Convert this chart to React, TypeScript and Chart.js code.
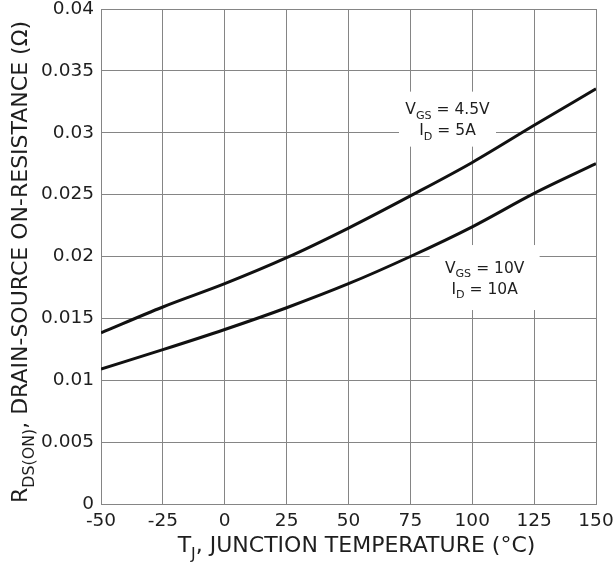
import React, { useEffect, useRef } from 'react';
import { Chart, registerables } from 'chart.js';

Chart.register(...registerables);

// Junction temperature (°C)
const temperatures = [-50, -25, 0, 25, 50, 75, 100, 125, 150];
// R_DS(ON) (Ω) at VGS = 4.5V, ID = 5A
const rdsVgs45 = [0.01383, 0.01592, 0.0178, 0.0199, 0.0223, 0.0249, 0.0276, 0.0306, 0.03355];
// R_DS(ON) (Ω) at VGS = 10V, ID = 10A
const rdsVgs10 = [0.01091, 0.01247, 0.0141, 0.01586, 0.0178, 0.0200, 0.0224, 0.0251, 0.0275];

const xTicks = [-50, -25, 0, 25, 50, 75, 100, 125, 150];
const yTicks = [0, 0.005, 0.01, 0.015, 0.02, 0.025, 0.03, 0.035, 0.04];

type Seg = { t: string; sub?: boolean };

const FONT = "'DejaVu Sans', 'Liberation Sans', sans-serif";
const TEXT_COLOR = '#1e1e1e';
const GRID_COLOR = '#858585';

function drawRich(ctx: CanvasRenderingContext2D, segs: Seg[], cx: number, baseline: number, size: number) {
  const subSize = size * 0.72;
  const widths = segs.map((s) => {
    ctx.font = `${s.sub ? subSize : size}px ${FONT}`;
    return ctx.measureText(s.t).width;
  });
  const total = widths.reduce((a, b) => a + b, 0);
  let x = cx - total / 2;
  ctx.textAlign = 'left';
  ctx.textBaseline = 'alphabetic';
  segs.forEach((s, i) => {
    ctx.font = `${s.sub ? subSize : size}px ${FONT}`;
    ctx.fillText(s.t, x, baseline + (s.sub ? size * 0.3 : 0));
    x += widths[i];
  });
}

const annotations = [
  {
    x: 90,
    y: 0.0311,
    w: 97,
    h: 55,
    lines: [
      [{ t: 'V' }, { t: 'GS', sub: true }, { t: ' = 4.5V' }],
      [{ t: 'I' }, { t: 'D', sub: true }, { t: ' = 5A' }],
    ] as Seg[][],
  },
  {
    x: 105,
    y: 0.0183,
    w: 110,
    h: 65,
    lines: [
      [{ t: 'V' }, { t: 'GS', sub: true }, { t: ' = 10V' }],
      [{ t: 'I' }, { t: 'D', sub: true }, { t: ' = 10A' }],
    ] as Seg[][],
  },
];

const textPlugin = {
  id: 'customText',
  beforeDatasetsDraw(chart: any) {
    const ctx: CanvasRenderingContext2D = chart.ctx;
    const xs = chart.scales.x;
    const ys = chart.scales.y;
    ctx.save();
    annotations.forEach((a) => {
      const cx = xs.getPixelForValue(a.x);
      const cy = ys.getPixelForValue(a.y);
      ctx.fillStyle = '#fff';
      ctx.fillRect(cx - a.w / 2, cy - a.h / 2, a.w, a.h);
      ctx.fillStyle = TEXT_COLOR;
      const lh = 21;
      a.lines.forEach((ln, i) => {
        const base = cy - lh / 2 + i * lh + 5.5;
        drawRich(ctx, ln, cx, base, 15.5);
      });
    });
    ctx.restore();
  },
  afterDraw(chart: any) {
    const ctx: CanvasRenderingContext2D = chart.ctx;
    const area = chart.chartArea;
    ctx.save();
    ctx.fillStyle = TEXT_COLOR;
    // x-axis title
    drawRich(
      ctx,
      [{ t: 'T' }, { t: 'J', sub: true }, { t: ', JUNCTION TEMPERATURE (°C)' }],
      (area.left + area.right) / 2 + 8,
      552,
      22
    );
    // y-axis title
    ctx.translate(27, 262);
    ctx.rotate(-Math.PI / 2);
    drawRich(
      ctx,
      [{ t: 'R' }, { t: 'DS(ON)', sub: true }, { t: ', DRAIN-SOURCE ON-RESISTANCE (Ω)' }],
      0,
      0,
      22
    );
    ctx.restore();
  },
};

export default function App() {
  const canvasRef = useRef<HTMLCanvasElement | null>(null);

  useEffect(() => {
    if (!canvasRef.current) return;
    const chart = new Chart(canvasRef.current, {
      type: 'line',
      data: {
        datasets: [
          {
            label: 'VGS = 4.5V, ID = 5A',
            data: temperatures.map((t, i) => ({ x: t, y: rdsVgs45[i] })),
            borderColor: '#111',
            borderWidth: 3,
            pointRadius: 0,
            fill: false,
            cubicInterpolationMode: 'monotone',
          },
          {
            label: 'VGS = 10V, ID = 10A',
            data: temperatures.map((t, i) => ({ x: t, y: rdsVgs10[i] })),
            borderColor: '#111',
            borderWidth: 3,
            pointRadius: 0,
            fill: false,
            cubicInterpolationMode: 'monotone',
          },
        ],
      },
      options: {
        animation: false,
        responsive: true,
        maintainAspectRatio: false,
        layout: { padding: { top: 9, right: 17, left: 0, bottom: 0 } },
        plugins: {
          legend: { display: false },
          tooltip: { enabled: false },
          title: { display: false },
        },
        scales: {
          x: {
            type: 'linear',
            min: -50,
            max: 150,
            afterBuildTicks: (s: any) => {
              s.ticks = xTicks.map((v) => ({ value: v }));
            },
            afterFit: (s: any) => {
              s.height = 59;
              s.paddingLeft = 0;
              s.paddingRight = 0;
            },
            grid: { color: GRID_COLOR, lineWidth: 1, drawTicks: false },
            border: { color: GRID_COLOR, width: 1 },
            ticks: {
              padding: 6,
              autoSkip: false,
              maxRotation: 0,
              color: TEXT_COLOR,
              font: { family: FONT, size: 18.5 },
              callback: (v: any) => String(v),
            },
          },
          y: {
            type: 'linear',
            min: 0,
            max: 0.04,
            afterBuildTicks: (s: any) => {
              s.ticks = yTicks.map((v) => ({ value: v }));
            },
            afterFit: (s: any) => {
              s.width = 101;
              s.paddingTop = 0;
              s.paddingBottom = 0;
            },
            grid: { color: GRID_COLOR, lineWidth: 1, drawTicks: false },
            border: { color: GRID_COLOR, width: 1 },
            ticks: {
              padding: 7,
              color: TEXT_COLOR,
              font: { family: FONT, size: 18.5 },
              callback: (v: any) => String(parseFloat(Number(v).toFixed(3))),
            },
          },
        },
      },
      plugins: [textPlugin],
    } as any);
    return () => chart.destroy();
  }, []);

  return (
    <div style={{ position: 'absolute', left: 0, top: 0, width: 613, height: 563, background: '#fff' }}>
      <canvas ref={canvasRef} />
    </div>
  );
}
